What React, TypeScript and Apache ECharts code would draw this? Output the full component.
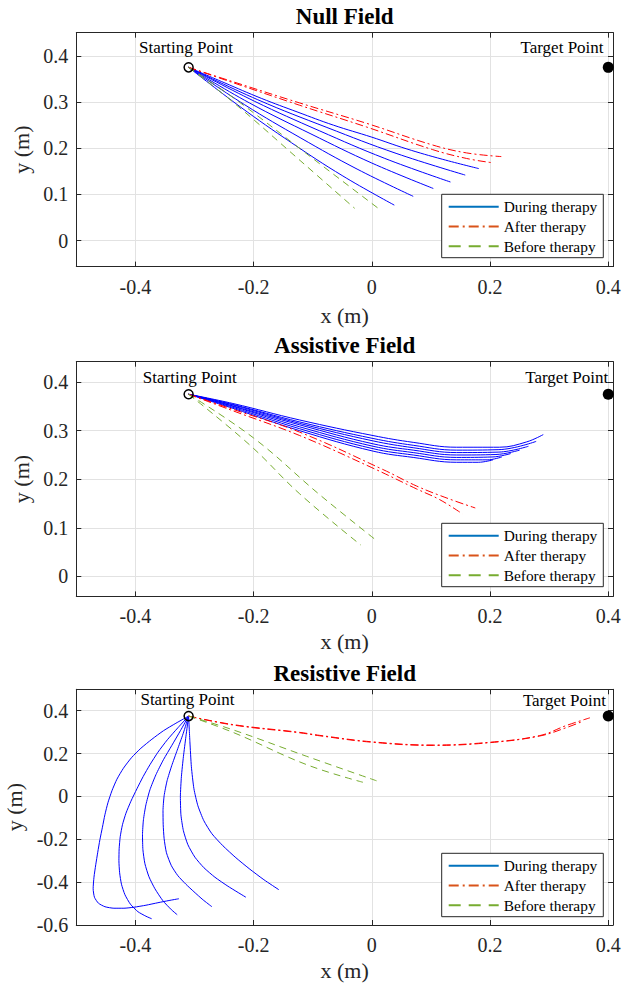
import React, { useEffect, useRef } from 'react';
import * as echarts from 'echarts';

// ---------- data (x, y in metres) ----------
const startPoint = [-0.31, 0.375];
const targetPoint = [0.4, 0.375];
const legendNames = ['During therapy', 'After therapy', 'Before therapy'];
const titles = ['Null Field', 'Assistive Field', 'Resistive Field'];
const xTicks = [-0.4, -0.2, 0, 0.2, 0.4];

const nullDuring = [
  [[-0.31, 0.375], [-0.223, 0.29], [-0.136, 0.212], [-0.049, 0.14], [0.038, 0.077]],
  [[-0.31, 0.375], [-0.215, 0.294], [-0.12, 0.222], [-0.025, 0.155], [0.07, 0.096]],
  [[-0.31, 0.375], [-0.207, 0.298], [-0.103, 0.231], [0.0, 0.168], [0.104, 0.113]],
  [[-0.31, 0.375], [-0.199, 0.302], [-0.089, 0.238], [0.022, 0.178], [0.133, 0.127]],
  [[-0.31, 0.375], [-0.193, 0.305], [-0.076, 0.245], [0.041, 0.189], [0.158, 0.142]],
  [[-0.31, 0.375], [-0.25, 0.342], [-0.187, 0.308], [-0.125, 0.278], [-0.065, 0.25], [0.0, 0.224], [0.058, 0.199], [0.12, 0.176], [0.181, 0.156]],
];
const nullAfter = [
  [[-0.31, 0.375], [-0.235, 0.344], [-0.122, 0.298], [-0.009, 0.254], [0.103, 0.207], [0.16, 0.19], [0.219, 0.182]],
  [[-0.31, 0.375], [-0.235, 0.342], [-0.122, 0.293], [-0.009, 0.246], [0.103, 0.197], [0.16, 0.178], [0.202, 0.169]],
];
const nullBefore = [
  [[-0.31, 0.375], [-0.235, 0.3], [-0.12, 0.172], [-0.029, 0.07]],
  [[-0.31, 0.375], [-0.235, 0.31], [-0.1, 0.178], [0.015, 0.066]],
];

const assistDuring = [
  [[-0.31, 0.375], [-0.235, 0.346], [-0.122, 0.3], [0.002, 0.258], [0.07, 0.245], [0.143, 0.235], [0.18, 0.235], [0.205, 0.24]],
  [[-0.31, 0.375], [-0.235, 0.348], [-0.122, 0.304], [0.002, 0.263], [0.07, 0.25], [0.143, 0.24], [0.195, 0.24], [0.22, 0.246]],
  [[-0.31, 0.375], [-0.235, 0.35], [-0.122, 0.308], [0.002, 0.268], [0.07, 0.255], [0.143, 0.245], [0.205, 0.246], [0.235, 0.253]],
  [[-0.31, 0.375], [-0.235, 0.351], [-0.122, 0.312], [0.002, 0.273], [0.07, 0.26], [0.143, 0.25], [0.21, 0.251], [0.25, 0.26]],
  [[-0.31, 0.375], [-0.235, 0.353], [-0.122, 0.315], [0.002, 0.279], [0.07, 0.265], [0.143, 0.255], [0.215, 0.256], [0.265, 0.268]],
  [[-0.31, 0.375], [-0.235, 0.354], [-0.122, 0.318], [0.002, 0.284], [0.07, 0.27], [0.143, 0.26], [0.215, 0.261], [0.278, 0.278]],
  [[-0.31, 0.375], [-0.235, 0.356], [-0.122, 0.322], [0.002, 0.29], [0.07, 0.276], [0.143, 0.266], [0.216, 0.266], [0.262, 0.277], [0.29, 0.292]],
];
const assistAfter = [
  [[-0.31, 0.375], [-0.235, 0.344], [-0.122, 0.297], [0.019, 0.22], [0.076, 0.186], [0.13, 0.16], [0.175, 0.141]],
  [[-0.31, 0.375], [-0.235, 0.341], [-0.122, 0.29], [0.0, 0.224], [0.076, 0.18], [0.115, 0.158], [0.153, 0.129]],
];
const assistBefore = [
  [[-0.31, 0.375], [-0.206, 0.27], [-0.122, 0.17], [-0.019, 0.065]],
  [[-0.31, 0.375], [-0.2, 0.285], [-0.088, 0.168], [0.01, 0.072]],
];

const resistDuring = [
  [[-0.31, 0.375], [-0.3315, 0.3416], [-0.3526, 0.3066], [-0.3721, 0.2669], [-0.3907, 0.2249], [-0.4067, 0.1806], [-0.4203, 0.1316], [-0.4313, 0.0803], [-0.4397, 0.0266], [-0.4465, -0.0294], [-0.4516, -0.0854], [-0.4558, -0.1437], [-0.4601, -0.2021], [-0.4637, -0.2604], [-0.4671, -0.3187], [-0.4701, -0.377], [-0.4715, -0.4307], [-0.4693, -0.4704], [-0.4625, -0.4984], [-0.4515, -0.5147], [-0.4363, -0.5217], [-0.4194, -0.5217], [-0.4025, -0.517], [-0.3822, -0.5077], [-0.3619, -0.496], [-0.3433, -0.4858], [-0.3264, -0.4774]],
  [[-0.31, 0.375], [-0.3281, 0.3206], [-0.3459, 0.2646], [-0.3619, 0.2063], [-0.3754, 0.148], [-0.3868, 0.0933], [-0.3974, 0.0359], [-0.4076, -0.0224], [-0.416, -0.0784], [-0.4219, -0.1321], [-0.4257, -0.1881], [-0.4275, -0.2441], [-0.4279, -0.3001], [-0.4267, -0.3561], [-0.4236, -0.4097], [-0.4177, -0.4587], [-0.4084, -0.503], [-0.3957, -0.538], [-0.3822, -0.559], [-0.3726, -0.5707]],
  [[-0.31, 0.375], [-0.3239, 0.3066], [-0.3382, 0.2389], [-0.3526, 0.1713], [-0.3653, 0.1013], [-0.3754, 0.0313], [-0.3822, -0.0387], [-0.3864, -0.1087], [-0.388, -0.1787], [-0.3873, -0.2487], [-0.3839, -0.3141], [-0.3771, -0.3747], [-0.367, -0.4307], [-0.3535, -0.4867], [-0.3391, -0.5287], [-0.3293, -0.552]],
  [[-0.31, 0.375], [-0.3193, 0.2926], [-0.3293, 0.2156], [-0.3386, 0.1433], [-0.3464, 0.0733], [-0.3514, 0.0033], [-0.3533, -0.0667], [-0.353, -0.1321], [-0.3514, -0.1974], [-0.3475, -0.2628], [-0.3391, -0.3234], [-0.3281, -0.3701], [-0.3146, -0.4097], [-0.301, -0.4447], [-0.2858, -0.4821], [-0.2706, -0.5147]],
  [[-0.31, 0.375], [-0.3146, 0.2786], [-0.3188, 0.1853], [-0.3222, 0.092], [-0.3239, -0.0014], [-0.323, -0.0854], [-0.3188, -0.1601], [-0.3112, -0.2254], [-0.2993, -0.2837], [-0.2841, -0.3327], [-0.2655, -0.377], [-0.2435, -0.419], [-0.2131, -0.4704]],
  [[-0.31, 0.375], [-0.3078, 0.2553], [-0.3053, 0.1386], [-0.301, 0.0359], [-0.2943, -0.0434], [-0.2842, -0.1134], [-0.2706, -0.1741], [-0.252, -0.2301], [-0.23, -0.2861], [-0.2063, -0.3397], [-0.1826, -0.3887], [-0.1573, -0.4354]],
];
const resistAfter = [
  [[-0.31, 0.375], [-0.234, 0.335], [-0.122, 0.299], [-0.088, 0.285], [0.0, 0.255], [0.104, 0.24], [0.2, 0.253], [0.284, 0.284], [0.329, 0.331], [0.369, 0.367]],
  [[-0.31, 0.375], [-0.234, 0.333], [-0.122, 0.297], [-0.088, 0.283], [0.0, 0.253], [0.104, 0.238], [0.2, 0.251], [0.284, 0.282], [0.33, 0.322], [0.357, 0.351]],
];
const resistBefore = [
  [[-0.31, 0.375], [-0.234, 0.31], [-0.11, 0.187], [0.008, 0.073]],
  [[-0.31, 0.375], [-0.234, 0.298], [-0.11, 0.148], [-0.015, 0.066]],
];

const startLabelPos = [[-0.3145, 0.419], [-0.308, 0.41], [-0.312, 0.451]];
const targetLabelPos = [[0.392, 0.419], [0.4, 0.41], [0.396, 0.448]];

// ---------- layout ----------
const FONT = '"Liberation Serif", "Times New Roman", serif';
const AX = '#262626';
const XMIN = -0.5;
const XMAX = 0.408;
const yRanges = [[-0.056, 0.45], [-0.041, 0.442], [-0.6, 0.5]];
const grids = [
  { left: 76.3, top: 32.7, width: 536.7, height: 233.9 },
  { left: 76.3, top: 361.7, width: 536.7, height: 234.7 },
  { left: 76.3, top: 689.3, width: 536.7, height: 235.7 },
];
const yNameGap = [38.5, 38.5, 48.5];
const xNameGap = [37.5, 34, 34];
const legendTops = [194.3, 523.3, 853.3];
const titleY = [16.7, 345, 673.3];

function buildOption() {
  const xAxis: any[] = [];
  const yAxis: any[] = [];
  grids.forEach((g, gi) => {
    xAxis.push({
      type: 'value', gridIndex: gi, position: 'bottom', min: XMIN, max: XMAX,
      name: 'x (m)', nameLocation: 'middle', nameGap: xNameGap[gi],
      nameTextStyle: { fontFamily: FONT, fontSize: 22, color: AX },
      axisLine: { show: true, onZero: false, lineStyle: { color: AX, width: 1 } },
      axisTick: { show: true, inside: true, length: 5, lineStyle: { color: AX } },
      axisLabel: { show: true, fontFamily: FONT, fontSize: 20, color: AX, margin: 10, showMinLabel: false, showMaxLabel: false,
        formatter: (v: number) => (xTicks.some((t) => Math.abs(t - v) < 1e-6) ? String(Math.round(v * 10) / 10) : '') },
      splitLine: { show: true, lineStyle: { color: '#e2e2e2', width: 1 } },
    });
    xAxis.push({
      type: 'value', gridIndex: gi, position: 'top', min: XMIN, max: XMAX,
      axisLine: { show: true, onZero: false, lineStyle: { color: AX, width: 1 } },
      axisTick: { show: true, inside: true, length: 5, lineStyle: { color: AX } },
      axisLabel: { show: false }, splitLine: { show: false },
    });
    const [ymin, ymax] = yRanges[gi];
    yAxis.push({
      type: 'value', gridIndex: gi, position: 'left', min: ymin, max: ymax,
      name: 'y (m)', nameLocation: 'middle', nameGap: yNameGap[gi],
      nameTextStyle: { fontFamily: FONT, fontSize: 22, color: AX },
      axisLine: { show: true, onZero: false, lineStyle: { color: AX, width: 1 } },
      axisTick: { show: true, inside: true, length: 5, lineStyle: { color: AX } },
      axisLabel: { show: true, fontFamily: FONT, fontSize: 20, color: AX, margin: 8, showMinLabel: gi === 2, showMaxLabel: false },
      splitLine: { show: true, lineStyle: { color: '#e2e2e2', width: 1 } },
    });
    yAxis.push({
      type: 'value', gridIndex: gi, position: 'right', min: ymin, max: ymax,
      axisLine: { show: true, onZero: false, lineStyle: { color: AX, width: 1 } },
      axisTick: { show: true, inside: true, length: 5, lineStyle: { color: AX } },
      axisLabel: { show: false }, splitLine: { show: false },
    });
  });

  const series: any[] = [];
  const addLines = (lines: number[][][], gi: number, color: string, dash: any, tag: string, smooth: number) => {
    lines.forEach((pts, k) => {
      series.push({
        type: 'line', name: `${tag}-${gi}-${k}`, xAxisIndex: 2 * gi, yAxisIndex: 2 * gi,
        data: pts, symbol: 'none', showSymbol: false, smooth, silent: true, z: 2,
        lineStyle: { color, width: 1, type: dash },
      });
    });
  };
  const BLUE = '#0000ff';
  const RED = '#ff0000';
  const GREEN = '#77ac30';
  const DASHDOT = [8, 3, 2, 3];
  const DASH = [7, 5];
  const sets = [
    [nullDuring, nullAfter, nullBefore],
    [assistDuring, assistAfter, assistBefore],
    [resistDuring, resistAfter, resistBefore],
  ];
  const labelStyle = { fontFamily: FONT, fontSize: 17, color: '#000', opacity: 1 };
  sets.forEach(([d, a, b], gi) => {
    addLines(d, gi, BLUE, 'solid', 'during', gi === 2 ? 0.2 : 0.4);
    addLines(a, gi, RED, DASHDOT, 'after', 0.4);
    addLines(b, gi, GREEN, DASH, 'before', 0.4);
    series.push({
      type: 'scatter', name: `start-${gi}`, xAxisIndex: 2 * gi, yAxisIndex: 2 * gi, silent: true, z: 5,
      data: [startPoint], symbol: 'circle', symbolSize: 9,
      itemStyle: { color: 'rgba(0,0,0,0)', borderColor: '#000', borderWidth: 1.5, opacity: 1 },
    });
    series.push({
      type: 'scatter', name: `target-${gi}`, xAxisIndex: 2 * gi, yAxisIndex: 2 * gi, silent: true, z: 5,
      data: [targetPoint], symbol: 'circle', symbolSize: 11, itemStyle: { color: '#000', opacity: 1 },
    });
    series.push({
      type: 'scatter', name: `slabel-${gi}`, xAxisIndex: 2 * gi, yAxisIndex: 2 * gi, silent: true, z: 6,
      data: [startLabelPos[gi]], symbolSize: 0, itemStyle: { color: 'rgba(0,0,0,0)', opacity: 1 },
      label: { show: true, position: 'inside', formatter: 'Starting Point', align: 'center', verticalAlign: 'middle', ...labelStyle },
    });
    series.push({
      type: 'scatter', name: `tlabel-${gi}`, xAxisIndex: 2 * gi, yAxisIndex: 2 * gi, silent: true, z: 6,
      data: [targetLabelPos[gi]], symbolSize: 0, itemStyle: { color: 'rgba(0,0,0,0)', opacity: 1 },
      label: { show: true, position: 'inside', formatter: 'Target Point', align: 'right', verticalAlign: 'middle', ...labelStyle },
    });
  });
  // legend-only series (MATLAB default colours)
  const legendStyles = [
    { color: '#0072BD', type: 'solid' },
    { color: '#D95319', type: [10, 4, 2, 4] },
    { color: '#77AC30', type: [12, 8] },
  ];
  legendNames.forEach((n, i) => {
    series.push({
      type: 'line', name: n, xAxisIndex: 0, yAxisIndex: 0, data: [], symbol: 'none',
      itemStyle: { color: legendStyles[i].color, opacity: 0 },
      lineStyle: { color: legendStyles[i].color, width: 1.2, type: legendStyles[i].type, opacity: 1 },
    });
  });

  const legend = legendTops.map((top) => ({
    orient: 'vertical', left: 441.7, top, itemWidth: 50, itemHeight: 14, itemGap: 4.7,
    padding: [5, 6, 4, 6], borderColor: AX, borderWidth: 1, backgroundColor: '#fff',
    selectedMode: false, z: 10,
    itemStyle: { opacity: 0 },
    lineStyle: { opacity: 1 },
    textStyle: { fontFamily: FONT, fontSize: 15.4, color: '#000' },
    data: legendNames,
  }));

  const graphic = titles.map((t, i) => ({
    type: 'text', x: 344.7, y: titleY[i], z: 20,
    style: {
      text: t, fill: '#000', fontFamily: FONT, fontWeight: 'bold', fontSize: 23,
      align: 'center', verticalAlign: 'middle', textAlign: 'center', textVerticalAlign: 'middle',
    },
  }));

  return {
    animation: false,
    backgroundColor: '#fff',
    textStyle: { fontFamily: FONT },
    grid: grids.map((g) => ({ ...g, containLabel: false, outerBoundsMode: 'none' })),
    xAxis, yAxis, series, legend, graphic,
  };
}

export default function App() {
  const ref = useRef<HTMLDivElement>(null);
  useEffect(() => {
    const chart = echarts.init(ref.current as HTMLDivElement, null, { renderer: 'svg' });
    chart.setOption(buildOption() as any);
    return () => chart.dispose();
  }, []);
  return (
    <div
      ref={ref}
      style={{ position: 'absolute', left: 0, top: 0, width: 623, height: 990, background: '#fff' }}
    />
  );
}
